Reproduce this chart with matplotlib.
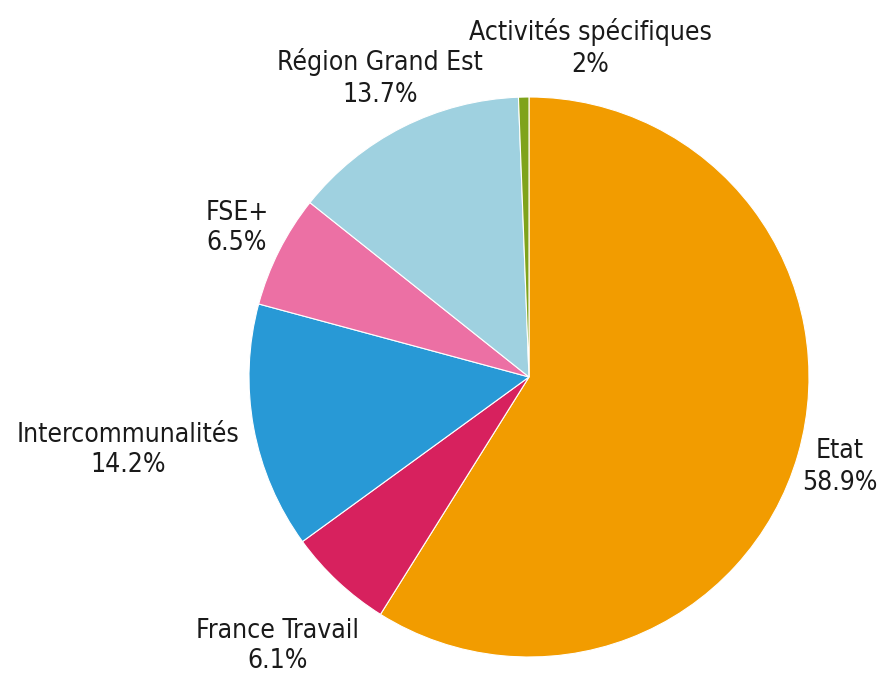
import matplotlib
matplotlib.use('Agg')
import matplotlib.pyplot as plt

# ─── Data ────────────────────────────────────────────────────────────────────
CATEGORIES = ["Etat", "France Travail", "Intercommunalités", "FSE+",
              "Région Grand Est", "Activités spécifiques"]
VALUES     = [58.9, 6.1, 14.2, 6.5, 13.7, 0.6]
PCT_LABELS = ["58.9%", "6.1%", "14.2%", "6.5%", "13.7%", "2%"]
COLORS     = ["#F29C00", "#D7215E", "#2899D6", "#EC70A4", "#9FD1E0", "#7FA31B"]

# label block centres in pixel coords (x, y from top)
LABEL_POS = [(840, 467), (278, 646), (128, 450), (237, 228), (380, 78), (590, 48)]

plt.rcParams["font.family"] = "DejaVu Sans"

W, H = 877, 675
fig = plt.figure(figsize=(W / 100, H / 100), dpi=100)
ax = fig.add_axes([0, 0, 1, 1])

ax.pie(VALUES, colors=COLORS, startangle=90, counterclock=False,
       center=(529, H - 377), radius=280, frame=True,
       wedgeprops={"edgecolor": "white", "linewidth": 0.8})
ax.set_xlim(0, W)
ax.set_ylim(0, H)
ax.set_aspect("equal")
ax.axis("off")

for name, pct, (x, y) in zip(CATEGORIES, PCT_LABELS, LABEL_POS):
    ax.text(x, H - y, f"{name}\n{pct}", ha="center", va="center",
            fontsize=19, fontstretch="condensed", color="#1a1a1a",
            linespacing=1.25)

fig.savefig("out.png", dpi=100)
